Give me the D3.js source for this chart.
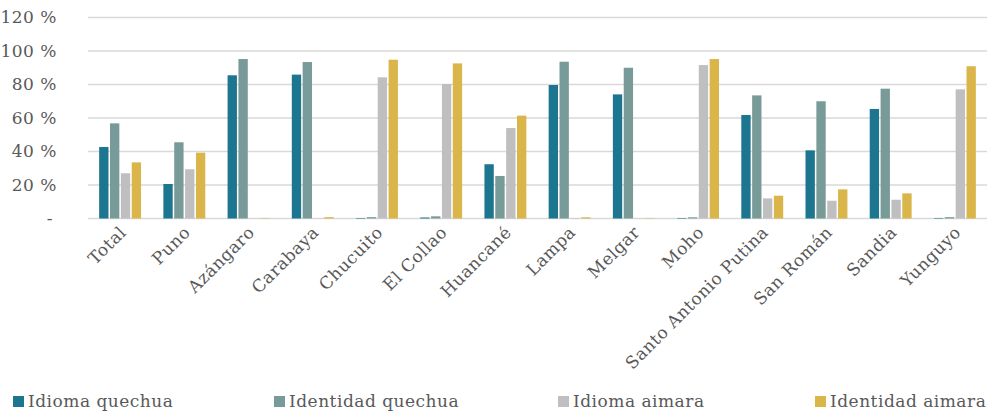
<!DOCTYPE html>
<html>
<head>
<meta charset="utf-8">
<script src="https://cdn.jsdelivr.net/npm/d3@7"></script>
<style>
  body { margin: 0; background: #fff; }
  svg text { font-family: "DejaVu Serif", serif; fill: #595959; letter-spacing: 0.5px; }
</style>
</head>
<body>
<div id="chart"></div>
<script>
const categories = ["Total", "Puno", "Azángaro", "Carabaya", "Chucuito", "El Collao", "Huancané",
  "Lampa", "Melgar", "Moho", "Santo Antonio Putina", "San Román", "Sandia", "Yunguyo"];
const seriesNames = ["Idioma quechua", "Identidad quechua", "Idioma aimara", "Identidad aimara"];
const seriesColors = ["#1d7690", "#789b99", "#bfbfc1", "#d9b54a"];

const idiomaQuechua    = [42.7, 20.6, 85.5, 85.9, 0.3, 0.6, 32.4, 79.7, 74.1, 0.3, 61.8, 40.7, 65.4, 0.3];
const identidadQuechua = [56.8, 45.5, 95.2, 93.4, 0.8, 1.3, 25.4, 93.6, 90.0, 0.7, 73.5, 70.0, 77.5, 0.8];
const idiomaAimara     = [27.0, 29.4, 0.1, 0.1, 84.3, 80.3, 54.0, 0.2, 0.1, 91.6, 12.0, 10.6, 11.2, 77.1];
const identidadAimara  = [33.5, 39.3, 0.2, 0.8, 94.8, 92.6, 61.4, 0.7, 0.2, 95.2, 13.6, 17.4, 15.0, 90.9];
const yTicks = [0, 20, 40, 60, 80, 100, 120];

const series = [idiomaQuechua, identidadQuechua, idiomaAimara, identidadAimara];

const width = 997, height = 411;
const margin = { top: 17.5, right: 10, bottom: 192.5, left: 88 };

const svg = d3.select("#chart").append("svg")
  .attr("width", width)
  .attr("height", height);

const x0 = d3.scaleBand()
  .domain(categories)
  .range([margin.left, width - margin.right])
  .paddingInner(0.3)
  .paddingOuter(0.15);

const x1 = d3.scaleBand()
  .domain(d3.range(series.length))
  .range([0, x0.bandwidth()])
  .padding(0.14);

const y = d3.scaleLinear()
  .domain([0, 120])
  .range([height - margin.bottom, margin.top]);

// gridlines
svg.append("g")
  .selectAll("line")
  .data(yTicks)
  .join("line")
  .attr("x1", margin.left)
  .attr("x2", width - margin.right)
  .attr("y1", d => y(d))
  .attr("y2", d => y(d))
  .attr("stroke", "#d9d9d9")
  .attr("stroke-width", 1.3);

// y tick labels
svg.append("g")
  .selectAll("text")
  .data(yTicks)
  .join("text")
  .attr("x", d => d === 0 ? 53 : 57)
  .attr("y", d => y(d))
  .attr("dy", "0.35em")
  .attr("text-anchor", "end")
  .style("font-size", "17px")
  .text(d => d === 0 ? "-" : d + " %");

// bars
const groups = svg.append("g")
  .selectAll("g")
  .data(categories)
  .join("g")
  .attr("transform", c => `translate(${x0(c)},0)`);

groups.selectAll("rect")
  .data((c, i) => series.map((s, k) => ({ k, v: s[i] })))
  .join("rect")
  .attr("x", d => x1(d.k))
  .attr("width", x1.bandwidth())
  .attr("y", d => y(d.v))
  .attr("height", d => y(0) - y(d.v))
  .attr("fill", d => seriesColors[d.k]);

// x labels
svg.append("g")
  .selectAll("text")
  .data(categories)
  .join("text")
  .attr("text-anchor", "end")
  .attr("transform", c => `translate(${x0(c) + x0.bandwidth() / 2 + 7},${y(0) + 15}) rotate(-45)`)
  .style("font-size", "17px")
  .text(c => c);

// legend
const legendX = [13, 274, 558, 815];
const legend = svg.append("g")
  .selectAll("g")
  .data(seriesNames)
  .join("g")
  .attr("transform", (d, i) => `translate(${legendX[i]},396)`);

legend.append("rect")
  .attr("width", 11)
  .attr("height", 11)
  .attr("fill", (d, i) => seriesColors[i]);

legend.append("text")
  .attr("x", 15)
  .attr("y", 5.5)
  .attr("dy", "0.35em")
  .style("font-size", "17px")
  .text(d => d);
</script>
</body>
</html>
